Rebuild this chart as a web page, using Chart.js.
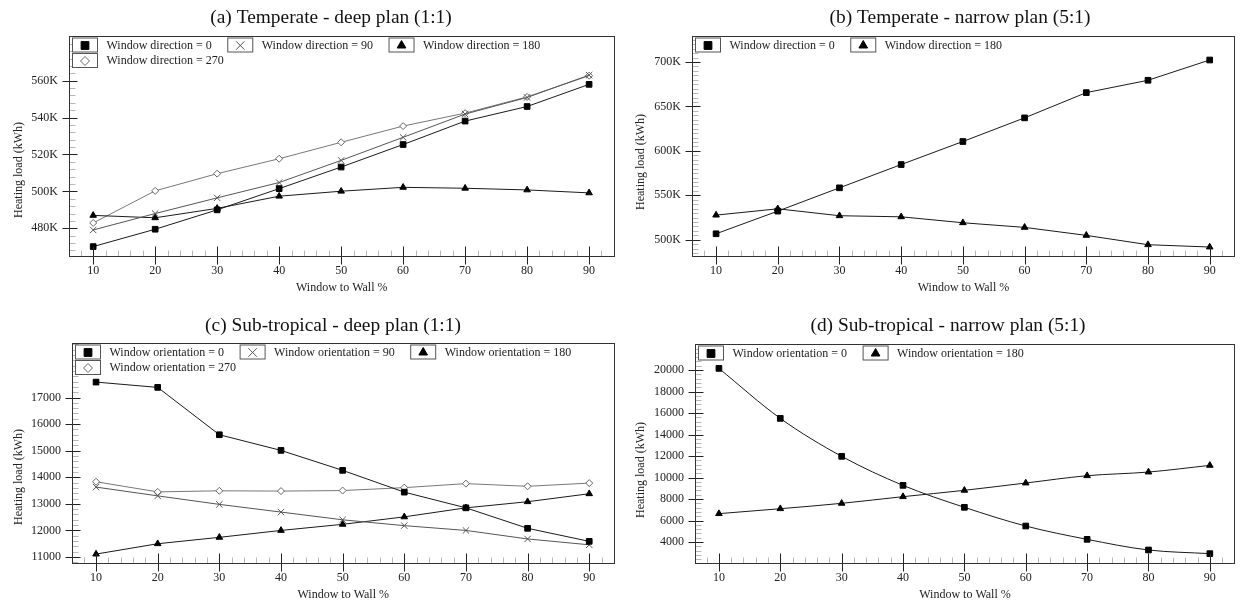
<!DOCTYPE html>
<html>
<head>
<meta charset="utf-8">
<script src="https://cdn.jsdelivr.net/npm/chart.js@4.4.1/dist/chart.umd.min.js"></script>
<style>
  body { margin: 0; background: #fff; }
  canvas { position: absolute; }
</style>
</head>
<body>
<canvas id="chartA" width="620" height="300" style="left:0;top:0"></canvas>
<canvas id="chartB" width="620" height="300" style="left:620px;top:0"></canvas>
<canvas id="chartC" width="620" height="305" style="left:0;top:300px"></canvas>
<canvas id="chartD" width="620" height="305" style="left:620px;top:300px"></canvas>
<script>
const FONT = 'Liberation Serif';

// window to wall ratio (%)
const wwr = [10, 20, 30, 40, 50, 60, 70, 80, 90];

// (a) Temperate - deep plan, heating load kWh
const tempDeep0 = [470100, 479500, 490000, 501500, 513200, 525400, 538100, 546000, 558000];
const tempDeep90 = [479100, 488000, 496500, 504800, 516800, 529300, 541900, 550900, 563000];
const tempDeep180 = [487000, 485700, 490800, 497400, 500100, 502200, 501700, 500800, 499200];
const tempDeep270 = [482900, 500300, 509600, 517700, 526600, 535400, 542400, 551200, 562700];

// (b) Temperate - narrow plan
const tempNarrow0 = [506700, 532200, 558400, 584600, 610500, 637100, 665500, 679400, 702200];
const tempNarrow180 = [527700, 534800, 527000, 525800, 519100, 513900, 504900, 494400, 491800];

// (c) Sub-tropical - deep plan
const subDeep0 = [17580, 17380, 15600, 15010, 14260, 13440, 12850, 12080, 11590];
const subDeep90 = [13630, 13300, 12980, 12690, 12400, 12180, 12000, 11680, 11460];
const subDeep180 = [11110, 11500, 11740, 12000, 12230, 12510, 12850, 13080, 13380];
const subDeep270 = [13830, 13450, 13490, 13480, 13500, 13610, 13760, 13660, 13780];

// (d) Sub-tropical - narrow plan
const subNarrow0 = [20150, 15500, 11970, 9270, 7230, 5490, 4250, 3260, 2920];
const subNarrow180 = [6640, 7100, 7600, 8220, 8810, 9490, 10170, 10510, 11130];

// tick labels
const xTicks = [10, 20, 30, 40, 50, 60, 70, 80, 90];
const yTicksA = [480000, 500000, 520000, 540000, 560000];
const yTicksB = [500000, 550000, 600000, 650000, 700000];
const yTicksC = [11000, 12000, 13000, 14000, 15000, 16000, 17000];
const yTicksD = [4000, 6000, 8000, 10000, 12000, 14000, 16000, 18000, 20000];

const marks = {
  0: { pointStyle: 'rect', radius: 4, fill: '#000', stroke: '#000', line: '#1a1a1a', legendR: 5.5 },
  90: { pointStyle: 'crossRot', radius: 4.5, fill: '#fff', stroke: '#555', line: '#555', legendR: 6 },
  180: { pointStyle: 'triangle', radius: 3.8, fill: '#000', stroke: '#000', line: '#1a1a1a', legendR: 5 },
  270: { pointStyle: 'rectRot', radius: 3.5, fill: '#fff', stroke: '#666', line: '#777', legendR: 4.5 }
};

const framePlugin = {
  id: 'frame',
  afterDraw(chart, args, opts) {
    const { ctx, chartArea: a } = chart;
    const xs = chart.scales.x, ys = chart.scales.y;
    const L = Math.round(a.left) + 0.5, R = Math.round(a.right) - 0.5;
    const T = Math.round(a.top) + 0.5, B = Math.round(a.bottom) + 0.5;
    ctx.save();
    ctx.lineWidth = 1;

    // minor ticks
    ctx.strokeStyle = '#b8b8b8';
    ctx.beginPath();
    for (let k = Math.ceil(xs.min / 2); k * 2 <= xs.max; k++) {
      const px = Math.round(xs.getPixelForValue(k * 2)) + 0.5;
      ctx.moveTo(px, B); ctx.lineTo(px, B - 6);
    }
    for (let k = Math.ceil(ys.min / opts.yMinor); k * opts.yMinor <= ys.max; k++) {
      const py = Math.round(ys.getPixelForValue(k * opts.yMinor)) + 0.5;
      ctx.moveTo(L, py); ctx.lineTo(L + 6, py);
    }
    ctx.stroke();

    // major ticks
    ctx.strokeStyle = '#222';
    ctx.beginPath();
    xs.ticks.forEach(t => {
      const px = Math.round(xs.getPixelForValue(t.value)) + 0.5;
      ctx.moveTo(px, B - 10); ctx.lineTo(px, B + 8);
    });
    ys.ticks.forEach(t => {
      const py = Math.round(ys.getPixelForValue(t.value)) + 0.5;
      ctx.moveTo(L - 7, py); ctx.lineTo(L + 8, py);
    });
    ctx.stroke();

    // frame
    ctx.strokeStyle = '#333';
    ctx.strokeRect(L, T, R - L, B - T);

    // chart title and y axis title
    ctx.fillStyle = '#111';
    ctx.textAlign = 'center';
    ctx.textBaseline = 'middle';
    ctx.font = '19.4px "' + FONT + '"';
    ctx.fillText(opts.title, opts.titleX, opts.titleY);
    ctx.fillStyle = '#222';
    ctx.font = '12px "' + FONT + '"';
    ctx.save();
    ctx.translate(opts.yTitleX, opts.yTitleY);
    ctx.rotate(-Math.PI / 2);
    ctx.fillText('Heating load (kWh)', 0, 0);
    ctx.restore();

    // legend inside the plot
    ctx.textAlign = 'left';
    let x = L + 3, y = T + 1.5;
    chart.data.datasets.forEach(ds => {
      const w = ctx.measureText(ds.label).width;
      if (x + 34 + w > R - 2) { x = L + 3; y += 15.5; }
      ctx.fillStyle = '#fff';
      ctx.strokeStyle = '#555';
      ctx.fillRect(x, y, 25, 14);
      ctx.strokeRect(x, y, 25, 14);
      const m = marks[ds.dir];
      ctx.fillStyle = m.fill;
      ctx.strokeStyle = m.stroke;
      Chart.helpers.drawPoint(ctx, { pointStyle: m.pointStyle, radius: m.legendR, borderWidth: 1, rotation: 0 }, x + 12.5, y + 7.5);
      ctx.fillStyle = '#222';
      ctx.fillText(ds.label, x + 34, y + 7.5);
      x += 34 + w + 16;
    });
    ctx.restore();
  }
};

function makeChart(id, box, title, series, yTicks, yRange, yMinor, fmt, monotone) {
  const canvas = document.getElementById(id);
  const W = canvas.width, H = canvas.height;
  return new Chart(canvas, {
    type: 'line',
    data: {
      datasets: series.map(s => ({
        label: s.label,
        dir: s.dir,
        data: wwr.map((v, i) => ({ x: v, y: s.values[i] })),
        borderColor: marks[s.dir].line,
        borderWidth: 1,
        pointStyle: marks[s.dir].pointStyle,
        pointRadius: marks[s.dir].radius,
        pointBackgroundColor: marks[s.dir].fill,
        pointBorderColor: marks[s.dir].stroke,
        pointBorderWidth: 1,
        tension: 0,
        cubicInterpolationMode: monotone ? 'monotone' : 'default'
      }))
    },
    options: {
      responsive: false,
      animation: false,
      layout: { padding: { left: 0, top: box.top, bottom: 0, right: W - box.right } },
      plugins: {
        legend: { display: false },
        tooltip: { enabled: false },
        title: { display: false },
        frame: {
          yMinor: yMinor, title: title,
          titleX: box.titleX, titleY: box.titleY,
          yTitleX: box.yTitleX, yTitleY: box.yTitleY
        }
      },
      scales: {
        x: {
          type: 'linear', min: 6.1, max: 94.1,
          afterBuildTicks: s => { s.ticks = xTicks.map(v => ({ value: v })); },
          afterFit: s => { s.height = H - box.bottom; },
          grid: { display: false, drawTicks: false },
          border: { display: false },
          ticks: { padding: 8, color: '#222', font: { family: FONT, size: 12 }, autoSkip: false, maxRotation: 0 },
          title: { display: true, text: 'Window to Wall %', color: '#222', font: { family: FONT, size: 12 }, padding: { top: 0, bottom: box.xTitle } }
        },
        y: {
          type: 'linear', min: yRange[0], max: yRange[1],
          afterBuildTicks: s => { s.ticks = yTicks.map(v => ({ value: v })); },
          afterFit: s => { s.width = box.left; },
          grid: { display: false, drawTicks: false },
          border: { display: false },
          ticks: { padding: 11, color: '#222', font: { family: FONT, size: 12 }, callback: fmt }
        }
      }
    },
    plugins: [framePlugin]
  });
}

const kFmt = v => (v / 1000) + 'K';
const nFmt = v => String(v);

makeChart('chartA',
  { left: 69, right: 617, top: 36, bottom: 256, xTitle: 4.8, titleX: 331, titleY: 18, yTitleX: 19, yTitleY: 170 },
  '(a) Temperate - deep plan (1:1)',
  [
    { label: 'Window direction = 0', dir: 0, values: tempDeep0 },
    { label: 'Window direction = 90', dir: 90, values: tempDeep90 },
    { label: 'Window direction = 180', dir: 180, values: tempDeep180 },
    { label: 'Window direction = 270', dir: 270, values: tempDeep270 }
  ], yTicksA, [465000, 584200], 4000, kFmt, false);

makeChart('chartB',
  { left: 72, right: 619, top: 36, bottom: 256, xTitle: 4.8, titleX: 340, titleY: 18, yTitleX: 21, yTitleY: 162 },
  '(b) Temperate - narrow plan (5:1)',
  [
    { label: 'Window direction = 0', dir: 0, values: tempNarrow0 },
    { label: 'Window direction = 180', dir: 180, values: tempNarrow180 }
  ], yTicksB, [481700, 729200], 5000, kFmt, false);

makeChart('chartC',
  { left: 72, right: 616, top: 43, bottom: 263, xTitle: 2.8, titleX: 333, titleY: 25.5, yTitleX: 19, yTitleY: 177 },
  '(c) Sub-tropical - deep plan (1:1)',
  [
    { label: 'Window orientation = 0', dir: 0, values: subDeep0 },
    { label: 'Window orientation = 90', dir: 90, values: subDeep90 },
    { label: 'Window orientation = 180', dir: 180, values: subDeep180 },
    { label: 'Window orientation = 270', dir: 270, values: subDeep270 }
  ], yTicksC, [10775, 19050], 200, nFmt, false);

makeChart('chartD',
  { left: 75, right: 615, top: 44, bottom: 263, xTitle: 2.8, titleX: 328, titleY: 25.5, yTitleX: 21, yTitleY: 170 },
  '(d) Sub-tropical - narrow plan (5:1)',
  [
    { label: 'Window orientation = 0', dir: 0, values: subNarrow0 },
    { label: 'Window orientation = 180', dir: 180, values: subNarrow180 }
  ], yTicksD, [2050, 22420], 400, nFmt, true);
</script>
</body>
</html>
